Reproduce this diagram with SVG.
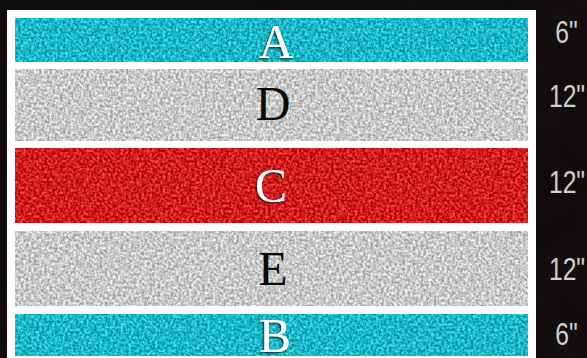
<svg xmlns="http://www.w3.org/2000/svg" width="587" height="358" viewBox="0 0 587 358">
  <defs>
    <filter id="speckle" x="0" y="0" width="100%" height="100%" color-interpolation-filters="sRGB">
      <feTurbulence type="fractalNoise" baseFrequency="0.38" numOctaves="2" seed="3" result="n"/>
      <feColorMatrix in="n" type="matrix" values="2.0 0 0 0 -0.5  2.0 0 0 0 -0.5  2.0 0 0 0 -0.5  0 0 0 0 1" result="g"/>
      <feComposite in="SourceGraphic" in2="g" operator="arithmetic" k1="0" k2="1" k3="0.34" k4="-0.17" result="m"/>
      <feComposite in="m" in2="SourceGraphic" operator="in"/>
    </filter>
    <filter id="bgnoise" x="0" y="0" width="100%" height="100%" color-interpolation-filters="sRGB">
      <feTurbulence type="fractalNoise" baseFrequency="0.02" numOctaves="3" seed="7" result="n"/>
      <feColorMatrix in="n" type="matrix" values="0.06 0 0 0 0  0.05 0 0 0 0  0.045 0 0 0 0  0 0 0 0 1" result="g"/>
      <feComposite in="SourceGraphic" in2="g" operator="arithmetic" k1="0" k2="1" k3="0.6" k4="-0.015"/>
    </filter>
    <filter id="shadow" x="-30%" y="-20%" width="160%" height="130%">
      <feDropShadow dx="-1" dy="1" stdDeviation="0.9" flood-color="#000" flood-opacity="0.9"/>
    </filter>
  </defs>
  <style>
    .stripe { filter: url(#speckle); }
    .teal { fill: #1cb8c8; }
    .gray { fill: #c9c9c9; }
    .red { fill: #d01e1e; }
    .letter { font-family: "Liberation Serif", "Times New Roman", serif; font-size: 48px; text-anchor: middle; }
    .light { fill: #ffffff; filter: url(#shadow); }
    .dark { fill: #0a0a0a; }
    .dim { font-family: "Liberation Sans", Arial, sans-serif; font-size: 32px; fill: #cfcfcf; text-anchor: middle; }
  </style>
  <rect x="0" y="0" width="587" height="358" fill="#110d0b" filter="url(#bgnoise)"/>
  <rect x="7" y="10" width="529" height="352" fill="#ffffff"/>
  <g id="connectors"/>
  <g id="stripe-A">
    <rect class="stripe teal" x="15" y="18" width="513" height="44"/>
    <text class="letter light" x="276" y="58">A</text>
  </g>
  <g id="stripe-D">
    <rect class="stripe gray" x="15" y="69" width="513" height="72"/>
    <text class="letter dark" x="273" y="120">D</text>
  </g>
  <g id="stripe-C">
    <rect class="stripe red" x="15" y="148" width="513" height="75"/>
    <text class="letter light" x="271" y="202">C</text>
  </g>
  <g id="stripe-E">
    <rect class="stripe gray" x="15" y="231" width="513" height="75"/>
    <text class="letter dark" x="273" y="285">E</text>
  </g>
  <g id="stripe-B">
    <rect class="stripe teal" x="15" y="314" width="513" height="42"/>
    <text class="letter light" x="275" y="352">B</text>
  </g>
  <g id="dimensions">
    <text class="dim" transform="translate(566.5 43) scale(0.77 1)">6"</text>
    <text class="dim" transform="translate(567 107) scale(0.77 1)">12"</text>
    <text class="dim" transform="translate(567 193) scale(0.77 1)">12"</text>
    <text class="dim" transform="translate(567 280) scale(0.77 1)">12"</text>
    <text class="dim" transform="translate(566.5 345) scale(0.77 1)">6"</text>
  </g>
</svg>
